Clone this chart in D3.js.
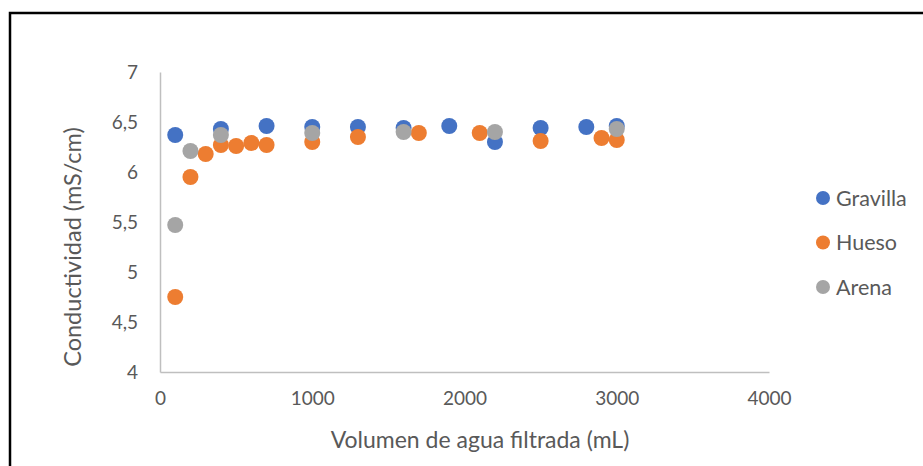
<!DOCTYPE html>
<html>
<head>
<meta charset="utf-8">
<script src="https://cdn.jsdelivr.net/npm/d3@7"></script>
<style>
  html, body { margin: 0; padding: 0; background: #fff; }
  svg { display: block; font-family: Lato, "Liberation Sans", sans-serif; }
</style>
</head>
<body>
<svg id="chart" width="923" height="466"></svg>
<script>
// Volumen filtrado (mL) y conductividad (mS/cm) por medio filtrante
const gravillaX = [100, 400, 700, 1000, 1300, 1600, 1900, 2200, 2500, 2800, 3000];
const gravillaY = [6.37, 6.43, 6.46, 6.45, 6.45, 6.44, 6.46, 6.30, 6.44, 6.45, 6.46];

const huesoX = [100, 200, 300, 400, 500, 600, 700, 1000, 1300, 1700, 2100, 2500, 2900, 3000];
const huesoY = [4.75, 5.95, 6.18, 6.27, 6.26, 6.29, 6.27, 6.30, 6.35, 6.39, 6.39, 6.31, 6.34, 6.32];

const arenaX = [100, 200, 400, 1000, 1600, 2200, 3000];
const arenaY = [5.47, 6.21, 6.37, 6.39, 6.40, 6.40, 6.43];

const seriesNames = ["Gravilla", "Hueso", "Arena"];
const seriesColors = ["#4472C4", "#ED7D31", "#A5A5A5"];
const xTicks = [0, 1000, 2000, 3000, 4000];
const yTicks = [4, 4.5, 5, 5.5, 6, 6.5, 7];
const xTitle = "Volumen de agua filtrada (mL)";
const yTitle = "Conductividad (mS/cm)";

const series = [
  { name: seriesNames[0], color: seriesColors[0], pts: d3.zip(gravillaX, gravillaY) },
  { name: seriesNames[1], color: seriesColors[1], pts: d3.zip(huesoX, huesoY) },
  { name: seriesNames[2], color: seriesColors[2], pts: d3.zip(arenaX, arenaY) }
];

const svg = d3.select("#chart");
const plot = { left: 160, right: 769, top: 72, bottom: 372 };

const x = d3.scaleLinear().domain([0, 4000]).range([plot.left, plot.right]);
const y = d3.scaleLinear().domain([4, 7]).range([plot.bottom, plot.top]);

// chart frame
svg.append("rect")
  .attr("x", 10).attr("y", 13)
  .attr("width", 940).attr("height", 480)
  .attr("fill", "none").attr("stroke", "#000").attr("stroke-width", 2.5);

const fmt = d => String(d).replace(".", ",");
const tickColor = "#595959";
const tickSize = 19;

// y axis
const yAxis = svg.append("g").attr("transform", `translate(${plot.left},0)`)
  .call(d3.axisLeft(y).tickValues(yTicks).tickFormat(fmt).tickSize(0).tickPadding(22));
yAxis.select(".domain").attr("stroke", "#BFBFBF").attr("stroke-width", 1.5);
yAxis.selectAll("text").attr("fill", tickColor).style("font-size", tickSize + "px")
  .style("font-family", "Lato, sans-serif");

// x axis
const xAxis = svg.append("g").attr("transform", `translate(0,${plot.bottom})`)
  .call(d3.axisBottom(x).tickValues(xTicks).tickFormat(d3.format("d")).tickSize(0).tickPadding(20));
xAxis.select(".domain").attr("stroke", "#BFBFBF").attr("stroke-width", 1.5);
xAxis.selectAll("text").attr("fill", tickColor).style("font-size", tickSize + "px")
  .style("font-family", "Lato, sans-serif");

// axis titles
svg.append("text")
  .attr("x", 480).attr("y", 448)
  .attr("text-anchor", "middle").attr("fill", tickColor)
  .style("font-size", "23px").text(xTitle);

svg.append("text")
  .attr("transform", `translate(81,${(plot.top + plot.bottom) / 2 + 25}) rotate(-90)`)
  .attr("text-anchor", "middle").attr("fill", tickColor)
  .style("font-size", "23.5px").text(yTitle);

// markers
series.forEach(s => {
  svg.append("g").selectAll("circle").data(s.pts).join("circle")
    .attr("cx", d => x(d[0])).attr("cy", d => y(d[1]))
    .attr("r", 8).attr("fill", s.color);
});

// legend
const legend = svg.append("g");
series.forEach((s, i) => {
  const cy = 198 + i * 44.5;
  legend.append("circle").attr("cx", 823).attr("cy", cy).attr("r", 7).attr("fill", s.color);
  legend.append("text").attr("x", 836).attr("y", cy).attr("dy", "0.35em")
    .attr("fill", tickColor).style("font-size", "21.5px").text(s.name);
});
</script>
</body>
</html>
